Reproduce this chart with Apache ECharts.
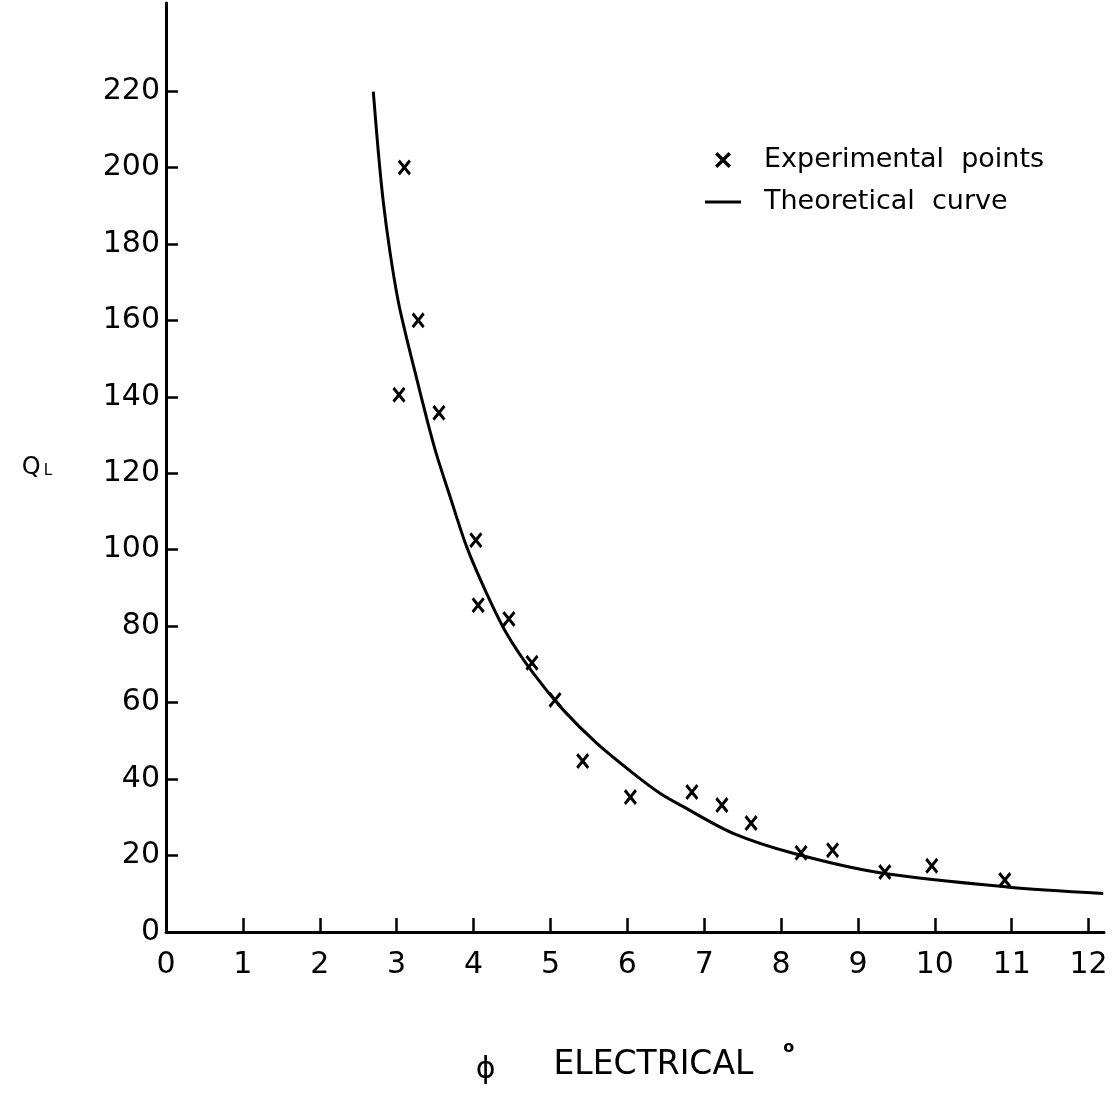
<!DOCTYPE html>
<html>
<head>
<meta charset="utf-8">
<title>QL vs phi electrical</title>
<script src="https://cdn.jsdelivr.net/npm/echarts@6/dist/echarts.min.js"></script>
<style>
  html, body { margin: 0; padding: 0; background: #fff; }
  #chart { width: 1113px; height: 1095px; }
</style>
</head>
<body>
<div id="chart"></div>
<script>
// experimental points (phi in electrical degrees, QL)
const expPhi = [3.1, 3.28, 3.03, 3.55, 4.03, 4.06, 4.46, 4.76, 5.06, 5.42, 6.04, 6.84, 7.23, 7.61, 8.26, 8.67, 9.35, 9.96, 10.91];
const expQ = [200, 160, 140.5, 135.8, 102.5, 85.5, 81.9, 70.4, 60.7, 44.7, 35.3, 36.6, 33.2, 28.5, 20.7, 21.4, 15.7, 17.3, 13.6];

// theoretical curve
const curvePhi = [2.696, 2.761, 2.826, 2.913, 3.021, 3.13, 3.26, 3.39, 3.52, 3.693, 3.91, 4.17, 4.43, 4.776, 5.166, 5.601, 6.077, 6.424, 6.727, 7.377, 8.157, 9.285, 10.932, 12.19];
const curveQ = [219.8, 204.1, 191.0, 177.9, 164.9, 155.3, 144.8, 134.4, 124.8, 114.0, 100.8, 88.6, 78.1, 67.7, 58.1, 49.4, 41.5, 36.3, 32.8, 25.8, 20.6, 15.5, 11.8, 10.1];

const xTicks = [0, 1, 2, 3, 4, 5, 6, 7, 8, 9, 10, 11, 12];
const yTicks = [0, 20, 40, 60, 80, 100, 120, 140, 160, 180, 200, 220];

const FONT = "DejaVu Sans";
const crossPath = "path://M0,1.5L1.5,0L5,3.5L8.5,0L10,1.5L6.5,5L10,8.5L8.5,10L5,6.5L1.5,10L0,8.5L3.5,5Z";

const chart = echarts.init(document.getElementById("chart"));

chart.setOption({
  backgroundColor: "#fff",
  animation: false,
  grid: { left: 166, right: 9, top: 3, bottom: 163, outerBoundsMode: "none" },
  legend: {
    orient: "vertical",
    left: 700,
    top: 141,
    itemGap: 14,
    itemWidth: 36,
    itemHeight: 16,
    textStyle: { fontFamily: FONT, fontSize: 27, lineHeight: 28, color: "#000", padding: [0, 0, 0, 18] },
    data: [
      { name: "Experimental points" },
      { name: "Theoretical curve", icon: "path://M0,0H36V3H0Z" }
    ],
    formatter: (name) => name.replace(" ", "  ")
  },
  xAxis: {
    type: "value",
    min: 0,
    max: 12.2,
    interval: 1,
    name: "{phi|ϕ}{t|ELECTRICAL}{deg|o}",
    nameLocation: "middle",
    nameGap: 108,
    nameTextStyle: {
      rich: {
        phi: { fontFamily: FONT, fontSize: 30, color: "#000", padding: [10, 58, 0, 0] },
        t: { fontFamily: FONT, fontSize: 33, color: "#000" },
        deg: { fontFamily: FONT, fontSize: 16, fontWeight: "bold", color: "#000", padding: [0, 0, 34, 30] }
      }
    },
    axisLine: { lineStyle: { color: "#000", width: 3 } },
    axisTick: { inside: true, length: 14, lineStyle: { color: "#000", width: 2.5 }, customValues: xTicks },
    axisLabel: {
      margin: 18,
      fontFamily: FONT,
      fontSize: 30,
      color: "#000",
      customValues: xTicks
    },
    splitLine: { show: false }
  },
  yAxis: {
    type: "value",
    min: 0,
    max: 243,
    interval: 20,
    name: "{q|Q}{l|L}",
    nameLocation: "middle",
    nameRotate: 0,
    nameGap: 114,
    nameTextStyle: {
      rich: {
        q: { fontFamily: FONT, fontSize: 24, color: "#000" },
        l: { fontFamily: FONT, fontSize: 15, color: "#000", padding: [8, 0, 0, 3] }
      }
    },
    axisLine: { lineStyle: { color: "#000", width: 3 } },
    axisTick: { inside: true, length: 12, lineStyle: { color: "#000", width: 2.5 }, customValues: yTicks },
    axisLabel: {
      margin: 6,
      fontFamily: FONT,
      fontSize: 30,
      color: "#000",
      customValues: yTicks
    },
    splitLine: { show: false }
  },
  series: [
    {
      name: "Experimental points",
      type: "scatter",
      symbol: crossPath,
      symbolSize: [13, 16],
      itemStyle: { color: "#000", opacity: 1 },
      data: expPhi.map((x, i) => [x, expQ[i]]),
      z: 3
    },
    {
      name: "Theoretical curve",
      type: "line",
      smooth: 0.3,
      symbol: "none",
      lineStyle: { color: "#000", width: 3 },
      itemStyle: { color: "#000" },
      data: curvePhi.map((x, i) => [x, curveQ[i]]),
      z: 2
    }
  ]
});
</script>
</body>
</html>
